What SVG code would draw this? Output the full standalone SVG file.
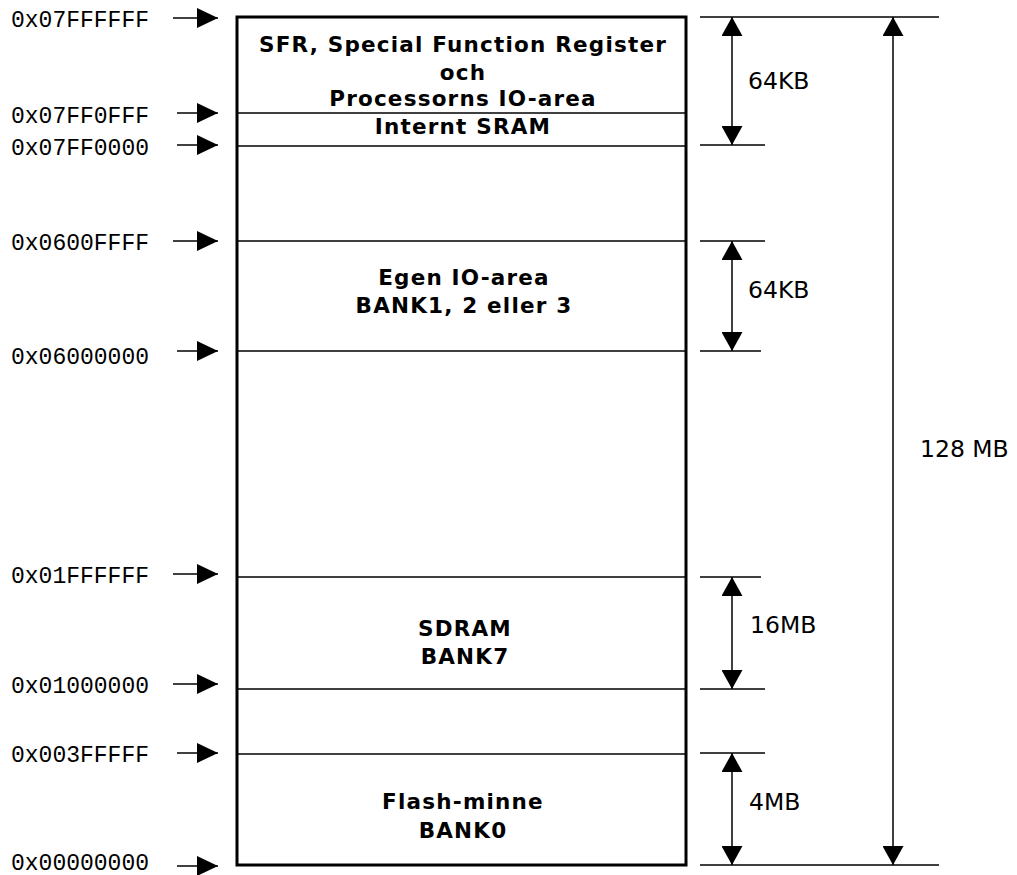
<svg xmlns="http://www.w3.org/2000/svg" width="1017" height="875" viewBox="0 0 1017 875">
<style>
.addr{font-family:"Liberation Mono","Courier New",monospace;font-size:23px;fill:#000}
.lbl{font-family:"DejaVu Sans",Verdana,sans-serif;font-size:23.5px;fill:#000}
.reg{font-family:"DejaVu Sans",Verdana,sans-serif;font-size:21.5px;font-weight:bold;fill:#000;text-anchor:middle;letter-spacing:1.2px}
.div{stroke:#000;stroke-width:1.5;fill:none}
.ptr{stroke:#000;stroke-width:1.5;fill:none;marker-end:url(#head)}
.dim{stroke:#000;stroke-width:1.5;fill:none;marker-start:url(#dhead);marker-end:url(#dhead)}
</style>
<defs>
<marker id="head" markerUnits="userSpaceOnUse" markerWidth="21" markerHeight="20" refX="21" refY="10" orient="auto">
<path d="M0,0 L21,10 L0,20 z" fill="#000"/>
</marker>
<marker id="dhead" markerUnits="userSpaceOnUse" markerWidth="19" markerHeight="21" refX="19" refY="10.5" orient="auto-start-reverse">
<path d="M0,0 L19,10.5 L0,21 z" fill="#000"/>
</marker>
</defs>
<rect width="1017" height="875" fill="#fff"/>
<g id="memory-box">
<rect x="237" y="17" width="449" height="848" fill="#fff" stroke="#000" stroke-width="3"/>
<line class="div" x1="237" y1="113" x2="686" y2="113"/>
<line class="div" x1="237" y1="146" x2="686" y2="146"/>
<line class="div" x1="237" y1="241" x2="686" y2="241"/>
<line class="div" x1="237" y1="351" x2="686" y2="351"/>
<line class="div" x1="237" y1="577" x2="686" y2="577"/>
<line class="div" x1="237" y1="689" x2="686" y2="689"/>
<line class="div" x1="237" y1="754" x2="686" y2="754"/>
</g>
<g id="sfr">
<text class="reg" x="463" y="52">SFR, Special Function Register</text>
<text class="reg" x="463" y="80">och</text>
<text class="reg" x="463" y="106">Processorns IO-area</text>
</g>
<g id="sram"><text class="reg" x="463" y="134">Internt SRAM</text></g>
<g id="egen-io">
<text class="reg" x="464" y="285">Egen IO-area</text>
<text class="reg" x="464" y="313">BANK1, 2 eller 3</text>
</g>
<g id="sdram">
<text class="reg" x="465" y="636">SDRAM</text>
<text class="reg" x="465" y="664">BANK7</text>
</g>
<g id="flash">
<text class="reg" x="463" y="809">Flash-minne</text>
<text class="reg" x="463" y="838">BANK0</text>
</g>
<g id="addresses">
<text class="addr" x="11" y="27">0x07FFFFFF</text>
<text class="addr" x="11" y="123">0x07FF0FFF</text>
<text class="addr" x="11" y="155">0x07FF0000</text>
<text class="addr" x="11" y="250">0x0600FFFF</text>
<text class="addr" x="11" y="364">0x06000000</text>
<text class="addr" x="11" y="583">0x01FFFFFF</text>
<text class="addr" x="11" y="693">0x01000000</text>
<text class="addr" x="11" y="762">0x003FFFFF</text>
<text class="addr" x="11" y="870">0x00000000</text>
</g>
<g id="connectors">
<line class="ptr" x1="173" y1="18" x2="218" y2="18"/>
<line class="ptr" x1="177" y1="113" x2="218" y2="113"/>
<line class="ptr" x1="177" y1="145" x2="218" y2="145"/>
<line class="ptr" x1="173" y1="241" x2="218" y2="241"/>
<line class="ptr" x1="177" y1="351" x2="218" y2="351"/>
<line class="ptr" x1="173" y1="574" x2="218" y2="574"/>
<line class="ptr" x1="173" y1="684" x2="218" y2="684"/>
<line class="ptr" x1="177" y1="753" x2="218" y2="753"/>
<line class="ptr" x1="177" y1="866" x2="218" y2="866"/>
<line class="div" x1="700" y1="17" x2="939" y2="17"/>
<line class="div" x1="700" y1="145" x2="765" y2="145"/>
<line class="div" x1="700" y1="241" x2="765" y2="241"/>
<line class="div" x1="700" y1="351" x2="761" y2="351"/>
<line class="div" x1="700" y1="577" x2="761" y2="577"/>
<line class="div" x1="700" y1="689" x2="765" y2="689"/>
<line class="div" x1="700" y1="753" x2="765" y2="753"/>
<line class="div" x1="700" y1="865" x2="939" y2="865"/>
<line class="dim" x1="732" y1="17" x2="732" y2="145"/>
<line class="dim" x1="732" y1="241" x2="732" y2="351"/>
<line class="dim" x1="732" y1="577" x2="732" y2="689"/>
<line class="dim" x1="732" y1="753" x2="732" y2="865"/>
<line class="dim" x1="893" y1="17" x2="893" y2="865"/>
</g>
<g id="dimension-labels">
<text class="lbl" x="748" y="89">64KB</text>
<text class="lbl" x="748" y="298">64KB</text>
<text class="lbl" x="750" y="633">16MB</text>
<text class="lbl" x="749" y="810">4MB</text>
<text class="lbl" x="920" y="457">128 MB</text>
</g>
</svg>
